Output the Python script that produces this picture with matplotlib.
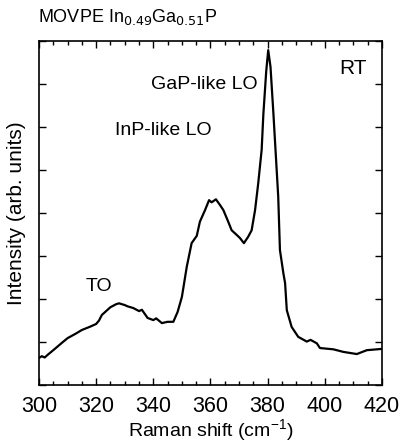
import numpy as np
import matplotlib.pyplot as plt
from matplotlib.ticker import MultipleLocator

plt.rcParams['font.family'] = ['Liberation Sans', 'DejaVu Sans']

# Raman spectrum (arb. units, 0-8 scale)
shift = [300, 301, 302, 303, 305, 308, 310, 313, 315, 318, 320, 321, 322, 325,
         327, 328, 330, 331, 333, 335, 336, 338, 340, 341, 343, 345, 347,
         348.5, 350, 351.7, 353.4, 355.2, 356.3, 358.1, 359.5, 360.4, 361.9,
         363.3, 364.5, 366.2, 367.4, 369.2, 370.3, 371.7, 373.2, 374.4, 375.6,
         376.7, 377.9, 378.5, 379.5, 380.2, 381, 382, 383.7, 384.3, 385.5,
         386.1, 386.7, 388.4, 390.7, 393.7, 395, 397.2, 398.3, 403, 406.5,
         411.2, 414.7, 420]
intensity = [0.63, 0.67, 0.64, 0.7, 0.81, 0.98, 1.09, 1.2, 1.28, 1.36, 1.42,
             1.5, 1.63, 1.81, 1.88, 1.9, 1.86, 1.83, 1.79, 1.72, 1.75, 1.56,
             1.51, 1.55, 1.44, 1.47, 1.47, 1.7, 2.05, 2.75, 3.3, 3.47, 3.8,
             4.07, 4.3, 4.25, 4.32, 4.19, 4.07, 3.8, 3.6, 3.49, 3.42, 3.3, 3.45,
             3.6, 4.07, 4.69, 5.47, 6.3, 7.3, 7.79, 7.4, 6.33, 4.38, 3.14, 2.6,
             2.37, 1.74, 1.35, 1.12, 1.01, 1.05, 0.97, 0.86, 0.83, 0.77, 0.72,
             0.81, 0.84]

fig = plt.figure(figsize=(4.04, 4.47), dpi=100)
ax = fig.add_axes([0.0965, 0.1387, 0.849, 0.7693])

ax.plot(shift, intensity, color='black', lw=1.6)

ax.set_xlim(300, 420)
ax.set_ylim(0, 8)
ax.xaxis.set_major_locator(MultipleLocator(20))
ax.xaxis.set_minor_locator(MultipleLocator(5))
ax.yaxis.set_major_locator(MultipleLocator(1))
ax.tick_params(which='both', direction='in', top=True, right=True, width=1)
ax.tick_params(which='major', length=5)
ax.tick_params(which='minor', length=3)
ax.tick_params(axis='x', labelsize=15.5, pad=8)
ax.set_yticklabels([])
for s in ax.spines.values():
    s.set_linewidth(1.2)

fig.text(0.521, 0.036, 'Raman shift (cm$^{\\mathregular{-1}}$)', fontsize=14,
         ha='center', va='center')
ax.set_ylabel('Intensity (arb. units)', fontsize=15, labelpad=6)

fig.text(0.094, 0.962, 'MOVPE In$_{0.49}$Ga$_{0.51}$P', fontsize=13, va='center')
ax.text(357.7, 6.98, 'GaP-like LO', fontsize=14, ha='center', va='center')
ax.text(343.4, 5.93, 'InP-like LO', fontsize=14, ha='center', va='center')
ax.text(321, 2.28, 'TO', fontsize=14, ha='center', va='center')
ax.text(414.8, 7.37, 'RT', fontsize=15, ha='right', va='center')

fig.savefig('out.png', dpi=100)
